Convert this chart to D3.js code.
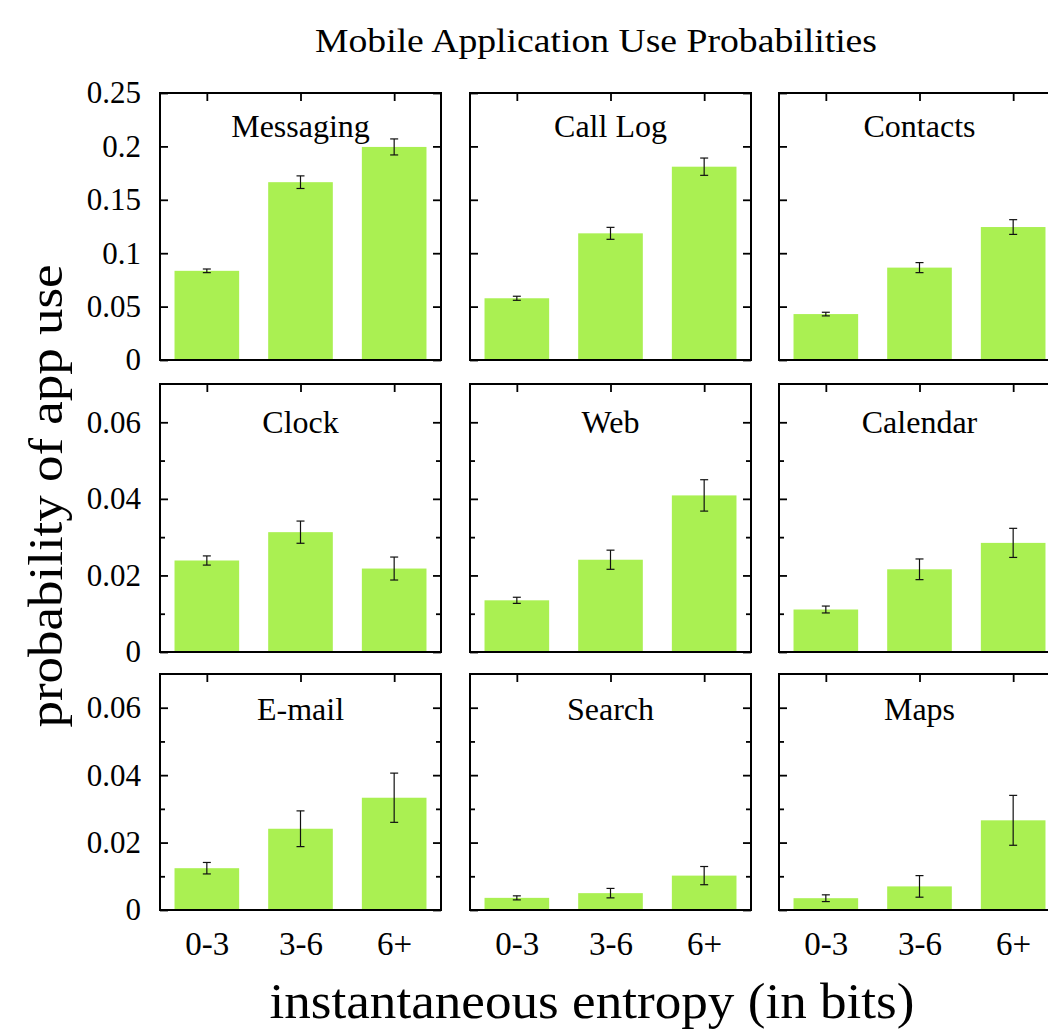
<!DOCTYPE html>
<html>
<head>
<meta charset="utf-8">
<script src="https://cdn.jsdelivr.net/npm/d3@7"></script>
<style>
  html, body { margin: 0; padding: 0; background: #fff; overflow: hidden; }
  svg { display: block; }
  text { font-family: "Liberation Serif", "Times New Roman", serif; fill: #000; }
</style>
</head>
<body>
<svg id="chart" width="1048" height="1036"></svg>
<script>
// data
var apps = ["Messaging", "Call Log", "Contacts", "Clock", "Web", "Calendar", "E-mail", "Search", "Maps"];
var bins = ["0-3", "3-6", "6+"];
var probs = [
    [0.0835, 0.1665, 0.1995],
    [0.0578, 0.1186, 0.1810],
    [0.0430, 0.0865, 0.1245],
    [0.0239, 0.0313, 0.0218],
    [0.0135, 0.0241, 0.0409],
    [0.0111, 0.0216, 0.0285],
    [0.0124, 0.0241, 0.0333],
    [0.0036, 0.0050, 0.0102],
    [0.0035, 0.0070, 0.0266]
];
var errs = [
    [0.0017, 0.0059, 0.0075],
    [0.0019, 0.0056, 0.0081],
    [0.0017, 0.0047, 0.0069],
    [0.0012, 0.0029, 0.0030],
    [0.0008, 0.0025, 0.0041],
    [0.0009, 0.0027, 0.0038],
    [0.0017, 0.0053, 0.0073],
    [0.0006, 0.0014, 0.0027],
    [0.0010, 0.0032, 0.0074]
];
var yMaxByRow = [0.25, 0.07, 0.07];
var yTicksTop = [0, 0.05, 0.1, 0.15, 0.2, 0.25];
var yTicksLow = [0, 0.01, 0.02, 0.03, 0.04, 0.05, 0.06];
var yLabelsLow = [0, 0.02, 0.04, 0.06];

var title = "Mobile Application Use Probabilities";
var xTitle = "instantaneous entropy (in bits)";
var yTitle = "probability of app use";

// layout
var colLeft = [160, 470, 779];
var panelW = 281;
var rowTop = [93, 384, 674];
var rowBottom = [360, 652, 910];
var nameOffset = [44, 49, 46];
var barColor = "#aaf052";

var svg = d3.select("#chart");

function fmt(d) { return String(+d.toFixed(2)); }

apps.forEach(function (name, k) {
    var row = Math.floor(k / 3), col = k % 3;
    var H = rowBottom[row] - rowTop[row];
    var g = svg.append("g")
        .attr("transform", "translate(" + colLeft[col] + "," + rowTop[row] + ")");

    var x = d3.scaleLinear().domain([0.5, 3.5]).range([0, panelW]);
    var y = d3.scaleLinear().domain([0, yMaxByRow[row]]).range([H, 0]);
    var half = 0.345;

    // bars
    g.selectAll("rect.bar")
        .data(probs[k])
        .join("rect")
        .attr("class", "bar")
        .attr("x", function (d, i) { return x(i + 1 - half); })
        .attr("width", x(1 + half) - x(1 - half))
        .attr("y", function (d) { return y(d); })
        .attr("height", function (d) { return H - y(d); })
        .attr("fill", barColor);

    // error bars
    var eb = g.selectAll("g.err")
        .data(probs[k].map(function (v, i) { return { i: i, v: v, e: errs[k][i] }; }))
        .join("g")
        .attr("class", "err")
        .attr("stroke", "#111")
        .attr("stroke-width", 1.2);
    eb.append("line")
        .attr("x1", function (d) { return x(d.i + 1); })
        .attr("x2", function (d) { return x(d.i + 1); })
        .attr("y1", function (d) { return y(d.v - d.e); })
        .attr("y2", function (d) { return y(d.v + d.e); });
    [-1, 1].forEach(function (s) {
        eb.append("line")
            .attr("x1", function (d) { return x(d.i + 1) - 4; })
            .attr("x2", function (d) { return x(d.i + 1) + 4; })
            .attr("y1", function (d) { return y(d.v + s * d.e); })
            .attr("y2", function (d) { return y(d.v + s * d.e); });
    });

    // axes (ticks pointing inward)
    var ticks = row === 0 ? yTicksTop : yTicksLow;
    var isMajor = function (d) {
        return row === 0 || yLabelsLow.some(function (t) { return Math.abs(t - d) < 1e-9; });
    };

    var left = g.append("g")
        .call(d3.axisLeft(y).tickValues(ticks).tickSizeInner(-8).tickSizeOuter(0).tickPadding(19)
            .tickFormat(function (d) { return (col === 0 && isMajor(d)) ? fmt(d) : ""; }));
    left.selectAll(".tick line").attr("x2", function (d) { return isMajor(d) ? 8 : 5; });
    left.selectAll(".tick text").style("font-size", "31px");

    var right = g.append("g")
        .attr("transform", "translate(" + panelW + ",0)")
        .call(d3.axisRight(y).tickValues(ticks).tickSizeInner(-8).tickSizeOuter(0).tickFormat(""));
    right.selectAll(".tick line").attr("x2", function (d) { return isMajor(d) ? -8 : -5; });

    g.append("g")
        .call(d3.axisTop(x).tickValues([1, 2, 3]).tickSizeInner(-8).tickSizeOuter(0).tickFormat(""));

    g.append("g")
        .attr("transform", "translate(0," + H + ")")
        .call(d3.axisBottom(x).tickValues([1, 2, 3]).tickSizeInner(0).tickSizeOuter(0).tickPadding(22)
            .tickFormat(function (d) { return row === 2 ? bins[d - 1] : ""; }))
        .selectAll("text").style("font-size", "33px");

    g.selectAll(".domain").remove();
    g.selectAll(".tick line").attr("stroke", "#000").attr("stroke-width", 1.8);
    g.selectAll(".tick text")
        .style("font-family", '"Liberation Serif", "Times New Roman", serif');

    // frame
    g.append("rect")
        .attr("width", panelW)
        .attr("height", H)
        .attr("fill", "none")
        .attr("stroke", "#000")
        .attr("stroke-width", 2);

    g.append("text")
        .attr("x", panelW / 2)
        .attr("y", nameOffset[row])
        .attr("text-anchor", "middle")
        .style("font-size", "32px")
        .text(name);
});

svg.append("text")
    .attr("x", 596)
    .attr("y", 52)
    .attr("text-anchor", "middle")
    .attr("textLength", 562)
    .attr("lengthAdjust", "spacingAndGlyphs")
    .style("font-size", "33px")
    .text(title);

svg.append("text")
    .attr("x", 592)
    .attr("y", 1018)
    .attr("text-anchor", "middle")
    .attr("textLength", 645)
    .attr("lengthAdjust", "spacingAndGlyphs")
    .style("font-size", "50px")
    .text(xTitle);

svg.append("text")
    .attr("transform", "translate(62,496) rotate(-90)")
    .attr("text-anchor", "middle")
    .attr("textLength", 463)
    .attr("lengthAdjust", "spacingAndGlyphs")
    .style("font-size", "48px")
    .text(yTitle);
</script>
</body>
</html>
